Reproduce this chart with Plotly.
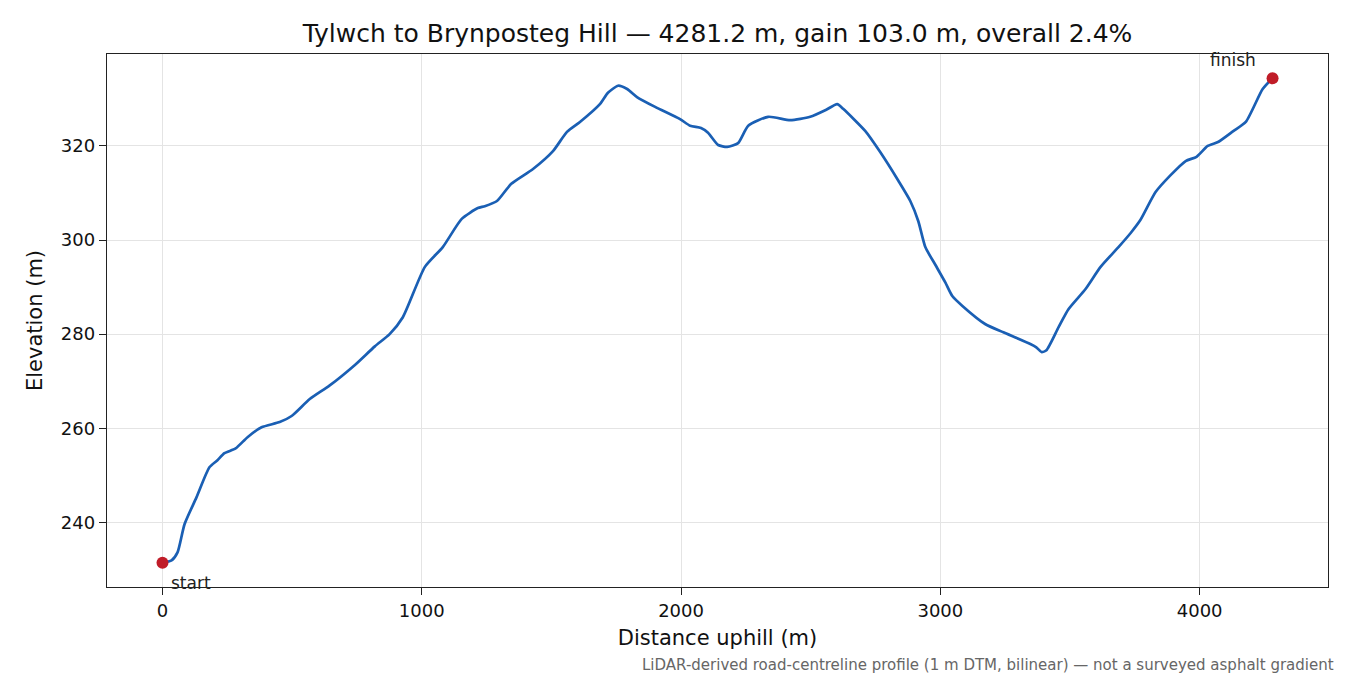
import plotly.graph_objects as go

# Elevation profile (distance along road, elevation)
distance_m = [0, 35, 58, 85, 131, 181, 212, 239, 282, 328, 382, 452, 498, 568,
              645, 741, 819, 876, 927, 1012, 1081, 1154, 1216, 1243, 1290, 1344,
              1429, 1506, 1560, 1610, 1687, 1718, 1757, 1792, 1830, 1900, 1996,
              2035, 2077, 2104, 2143, 2178, 2220, 2259, 2336, 2421, 2498, 2560,
              2602, 2625, 2710, 2768, 2838, 2884, 2915, 2942, 2980, 3019, 3046,
              3085, 3174, 3243, 3347, 3370, 3390, 3409, 3456, 3494, 3560, 3618,
              3687, 3734, 3772, 3830, 3888, 3946, 3988, 4031, 4073, 4131, 4178,
              4243, 4281.2]
elevation_m = [231.4, 231.9, 233.6, 239.6, 245.3, 251.7, 253.2, 254.7, 255.7,
               258.1, 260.2, 261.3, 262.6, 266.2, 269.1, 273.4, 277.4, 280.0,
               283.6, 294.3, 298.5, 304.5, 306.8, 307.2, 308.3, 311.9, 315.1,
               318.9, 323.0, 325.1, 328.9, 331.3, 332.8, 332.1, 330.4, 328.3,
               325.7, 324.3, 323.8, 322.8, 320.2, 319.8, 320.6, 324.3, 326.2,
               325.5, 326.2, 327.7, 328.9, 327.9, 323.2, 318.7, 312.6, 308.3,
               304.0, 298.5, 294.8, 291.0, 288.1, 286.0, 282.1, 280.4, 277.9,
               277.2, 276.2, 276.6, 281.5, 285.3, 289.6, 294.3, 298.5, 301.5,
               304.3, 310.2, 313.8, 316.8, 317.7, 320.0, 320.9, 323.2, 325.1,
               332.1, 334.4]

title = "Tylwch to Brynposteg Hill — 4281.2 m, gain 103.0 m, overall 2.4%"
note = "LiDAR-derived road-centreline profile (1 m DTM, bilinear) — not a surveyed asphalt gradient"

font = "DejaVu Sans"

fig = go.Figure()
fig.add_trace(go.Scatter(
    x=distance_m, y=elevation_m, mode="lines",
    line=dict(color="#1a5fb4", width=2.7, shape="spline", smoothing=0.6),
    hoverinfo="skip", showlegend=False))
fig.add_trace(go.Scatter(
    x=[distance_m[0], distance_m[-1]], y=[elevation_m[0], elevation_m[-1]],
    mode="markers", marker=dict(color="#c01c28", size=12),
    hoverinfo="skip", showlegend=False))

# start / finish labels
fig.add_annotation(x=distance_m[0], y=elevation_m[0], text="start",
                   showarrow=False, xanchor="left", yanchor="middle",
                   xshift=7, yshift=-20, font=dict(size=17, color="#222"))
fig.add_annotation(x=distance_m[-1], y=elevation_m[-1], text="finish",
                   showarrow=False, xanchor="right", yanchor="middle",
                   xshift=-15, yshift=18, font=dict(size=17, color="#222"))
fig.add_annotation(xref="paper", yref="paper", x=1.0065, y=-0.125,
                   text=note, showarrow=False, xanchor="right",
                   yanchor="top", font=dict(size=15, color="#666"))

axis_common = dict(
    showline=True, linecolor="#222", linewidth=1.4, mirror=True,
    ticks="outside", ticklen=7, tickwidth=1.3, tickcolor="#222",
    showgrid=True, gridcolor="#e4e4e4", gridwidth=1,
    zeroline=False, tickfont=dict(size=18, color="#111"),
)

fig.update_xaxes(range=[-214, 4495], tickvals=[0, 1000, 2000, 3000, 4000],
                 title=dict(text="Distance uphill (m)", font=dict(size=21), standoff=10),
                 **axis_common)
fig.update_yaxes(range=[226.25, 339.55], tickvals=[240, 260, 280, 300, 320],
                 title=dict(text="Elevation (m)", font=dict(size=21), standoff=12),
                 **axis_common)

fig.update_layout(
    width=1350, height=675,
    margin=dict(l=107, r=22, t=54, b=88),
    paper_bgcolor="white", plot_bgcolor="white",
    font=dict(family=font, color="#111"),
    title=dict(text=title, xref="paper", x=0.5, xanchor="center",
               y=0.951, yanchor="middle", font=dict(size=25, color="#111")),
)

# drop the page's default body margin so the figure sits at the window origin
fig.write_html("out.html", config={"displayModeBar": False},
               post_script="document.body.style.margin='0';")
